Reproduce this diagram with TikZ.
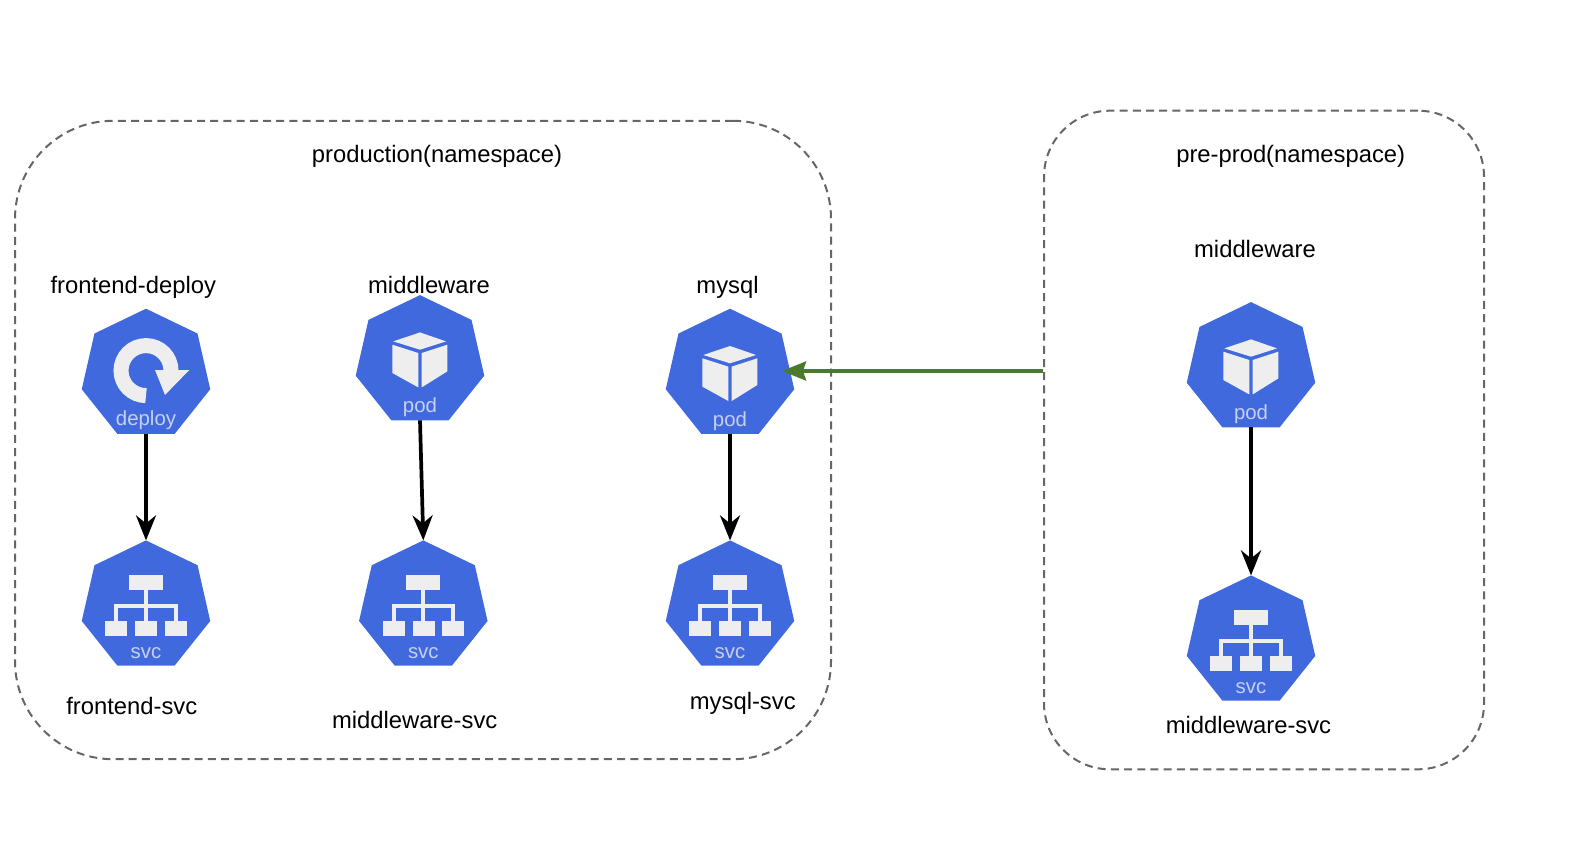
\documentclass[tikz,border=0pt]{standalone}
\usepackage{fontspec}
\setmainfont{Liberation Sans}
\usetikzlibrary{shapes.geometric,arrows.meta}
\definecolor{kubeblue}{HTML}{4169DE}
\definecolor{iconfill}{HTML}{EEEEEE}
\definecolor{captionfill}{HTML}{C6D0EE}
\definecolor{arrowgreen}{HTML}{4B7A2B}

\begin{document}
\begin{tikzpicture}
  [x=.5pt,y=-.5pt,every node/.style={inner sep=0pt,outer sep=0pt,font=\fontsize{11.9pt}{14pt}\selectfont}]
 \tikzset{NsStyle/.style={draw=black!60,line width=1pt,dash pattern=on 4pt off 2.6pt,rectangle},
  HeptStyle/.style={regular polygon,regular polygon sides=7,minimum size=65.9pt,fill=kubeblue},
  TextStyle/.style={anchor=base},
  CapStyle/.style={anchor=base,text=captionfill,font=\fontsize{10.2pt}{12pt}\selectfont},
  EdgeStyle/.style={-{Stealth[length=12.5pt,width=10pt,inset=4pt]},line width=1.85pt},
  pics/deployicon/.style={code={
    \draw[iconfill,line width=7.5pt] (0,21) arc[start angle=270,end angle=0,radius=12.5pt];
    \fill[iconfill] (9,-4.6) -- (43.3,-4.6) -- (19,20.3) -- cycle;
    \node[CapStyle] (-cap) at (0,50.4) {deploy};}},
  pics/podicon/.style={code={
    \fill[iconfill] (0,-28.6) -- (26,-19.6) -- (0,-11.3) -- (-26.7,-19.6) -- cycle;
    \fill[iconfill] (-27.7,-16.3) -- (-1.7,-8) -- (-1.7,26.4) -- (-27.7,12) -- cycle;
    \fill[iconfill] (1.7,-8) -- (27.3,-16.3) -- (27.3,10.4) -- (1.7,26.4) -- cycle;
    \node[CapStyle] (-cap) at (0,51.4) {pod};}},
  pics/svcicon/.style={code={
    \fill[iconfill] (-17,-31.3) rectangle (16.7,-16.3);
    \foreach \lx in {-40.7,-10.7,18.7}
      \fill[iconfill] (\lx,14.4) rectangle (\lx+22,29.4);
    \draw[iconfill,line width=1.9pt] (0,-16.3) -- (0,14.4) (-29.7,14.4) -- (-29.7,0) -- (29.7,0) -- (29.7,14.4);
    \node[CapStyle] (-cap) at (0,52) {svc};}}}

 \useasboundingbox (0,0) rectangle (1583,844);

  \node[NsStyle,rounded corners=49pt,minimum width=408pt,minimum height=319.2pt] (prod) at (423,440) {};
  \node[NsStyle,rounded corners=33pt,minimum width=220pt,minimum height=329.3pt] (pre) at (1264,440) {};

  \node[TextStyle] (t1) at (437,163) {production(namespace)};
  \node[TextStyle] (t2) at (1290.7,163) {pre-prod(namespace)};
  \node[TextStyle] (t3) at (133.3,293.5) {frontend-deploy};
  \node[TextStyle] (t4) at (429,293.5) {middleware};
  \node[TextStyle] (t5) at (727.5,293.5) {mysql};
  \node[TextStyle] (t6) at (1255,257.5) {middleware};
  \node[TextStyle] (t7) at (131.8,714.5) {frontend-svc};
  \node[TextStyle] (t8) at (414.7,728) {middleware-svc};
  \node[TextStyle] (t9) at (742.8,709) {mysql-svc};
  \node[TextStyle] (t10) at (1248.5,733.5) {middleware-svc};

  \node[HeptStyle] (n1) at (146,374.6) {};
  \node[HeptStyle] (n2) at (420,361) {};
  \node[HeptStyle] (n3) at (730,374.6) {};
  \node[HeptStyle] (n4) at (1251,368) {};

  \node[HeptStyle] (n5) at (146,606.3) {};
  \node[HeptStyle] (n6) at (423.3,606.3) {};
  \node[HeptStyle] (n7) at (730,606.3) {};
  \node[HeptStyle] (n8) at (1251,641.3) {};

 \pic (n1c) at (n1) {deployicon};
 \foreach \n in {n2,n3,n4}
    \pic (\n c) at (\n) {podicon};
 \foreach \n in {n5,n6,n7,n8}
    \pic (\n c) at (\n) {svcicon};

 \foreach \from/\to in {n1/n5,n2/n6,n3/n7,n4/n8}
    \draw[EdgeStyle] (\from.south) -- (\to.north);

 \coordinate (gtail) at (1042.5,371);
 \draw[-{Stealth[length=12pt,width=9.5pt,inset=1.5pt]},arrowgreen,line width=1.8pt,shorten >=26pt] (gtail) -- (gtail -| n3);

\end{tikzpicture}
\end{document}
